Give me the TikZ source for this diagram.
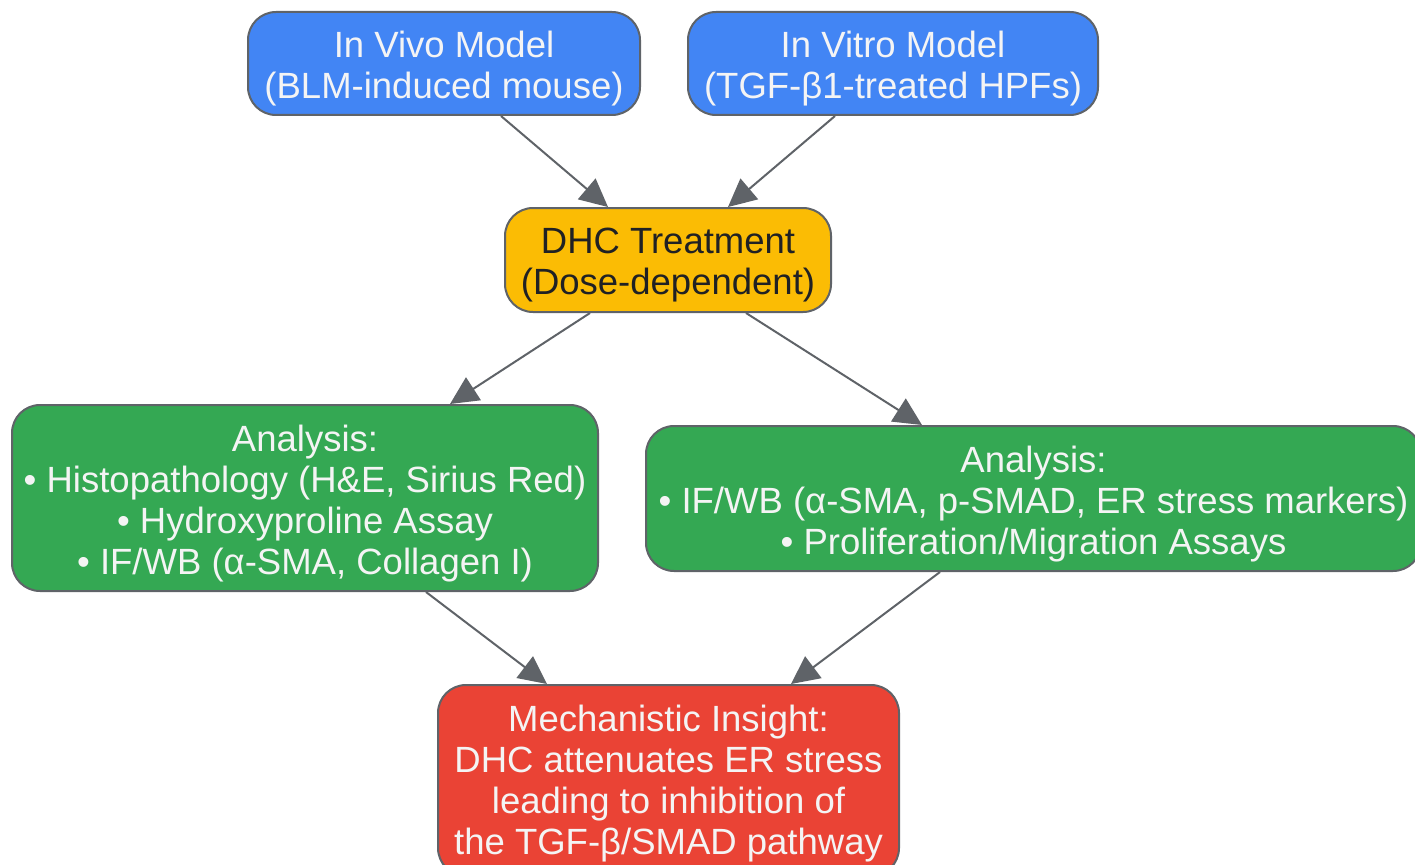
\documentclass[tikz,border=0pt]{standalone}
\usepackage{fontspec}
\setmainfont{Liberation Sans}
\usetikzlibrary{arrows.meta,calc}
\definecolor{gblue}{HTML}{4285F4}
\definecolor{gyellow}{HTML}{FBBC04}
\definecolor{ggreen}{HTML}{34A853}
\definecolor{gred}{HTML}{EA4335}
\definecolor{gborder}{HTML}{5F6368}
\definecolor{darktext}{HTML}{202124}
\definecolor{lighttext}{HTML}{F4F4F4}
\tikzset{
  box/.style={draw=gborder, line width=2pt, rounded corners=28pt, inner sep=0pt},
  txt/.style={inner sep=0pt, align=center, font=\fontsize{36.5}{41}\selectfont, text=lighttext},
  darktxt/.style={txt, text=darktext},
  conn/.style={draw=gborder, line width=2pt, -{Triangle[length=28pt,width=27pt]}, fill=gborder}
}
\begin{document}
\begin{tikzpicture}
\useasboundingbox (0,0) rectangle (1415pt,-864pt);
\node[box, fill=gblue, minimum width=392pt, minimum height=103pt] (vivo) at (444pt,-63.5pt) {};
\node[txt] (vivotxt) at ($(vivo)+(0,-5pt)$) {In Vivo Model\\(BLM-induced mouse)};
\node[box, fill=gblue, minimum width=410pt, minimum height=103pt] (vitro) at (893pt,-63.5pt) {};
\node[txt] (vitrotxt) at ($(vitro)+(0,-5pt)$) {In Vitro Model\\(TGF-β1-treated HPFs)};
\node[box, fill=gyellow, minimum width=326pt, minimum height=104pt] (dhc) at (668pt,-260pt) {};
\node[darktxt] (dhctxt) at ($(dhc)+(0,-5.5pt)$) {DHC Treatment\\(Dose-dependent)};
\node[box, fill=ggreen, minimum width=586pt, minimum height=186pt] (left) at (305pt,-498pt) {};
\node[txt] (lefttxt) at ($(left)+(0,-6pt)$)
  {Analysis:\\• Histopathology (H\&E, Sirius Red)\\• Hydroxyproline Assay\\• IF/WB (α-SMA, Collagen I)};
\node[box, fill=ggreen, minimum width=775pt, minimum height=145pt] (right) at (1033.5pt,-498.5pt) {};
\node[txt] (righttxt) at ($(right)+(0,-5.5pt)$)
  {Analysis:\\• IF/WB (α-SMA, p-SMAD, ER stress markers)\\• Proliferation/Migration Assays};
\node[box, fill=gred, minimum width=461pt, minimum height=191pt] (red) at (668.5pt,-780.5pt) {};
\node[txt] (redtxt) at ($(red)+(0,-3pt)$)
  {Mechanistic Insight:\\DHC attenuates ER stress\\leading to inhibition of\\the TGF-β/SMAD pathway};
\draw[conn] ($(vivo.south)+(57pt,0)$) -- ($(dhc.north)+(-60pt,0)$);
\draw[conn] ($(vitro.south)+(-58pt,0)$) -- ($(dhc.north)+(60pt,0)$);
\draw[conn] ($(dhc.south)+(-78pt,0)$) -- ($(left.north)+(145pt,0)$);
\draw[conn] ($(dhc.south)+(78pt,0)$) -- ($(right.north)+(-111.5pt,0)$);
\draw[conn] ($(left.south)+(121pt,0)$) -- ($(red.north)+(-121.5pt,0)$);
\draw[conn] ($(right.south)+(-93.5pt,0)$) -- ($(red.north)+(122.5pt,0)$);
\end{tikzpicture}
\end{document}
